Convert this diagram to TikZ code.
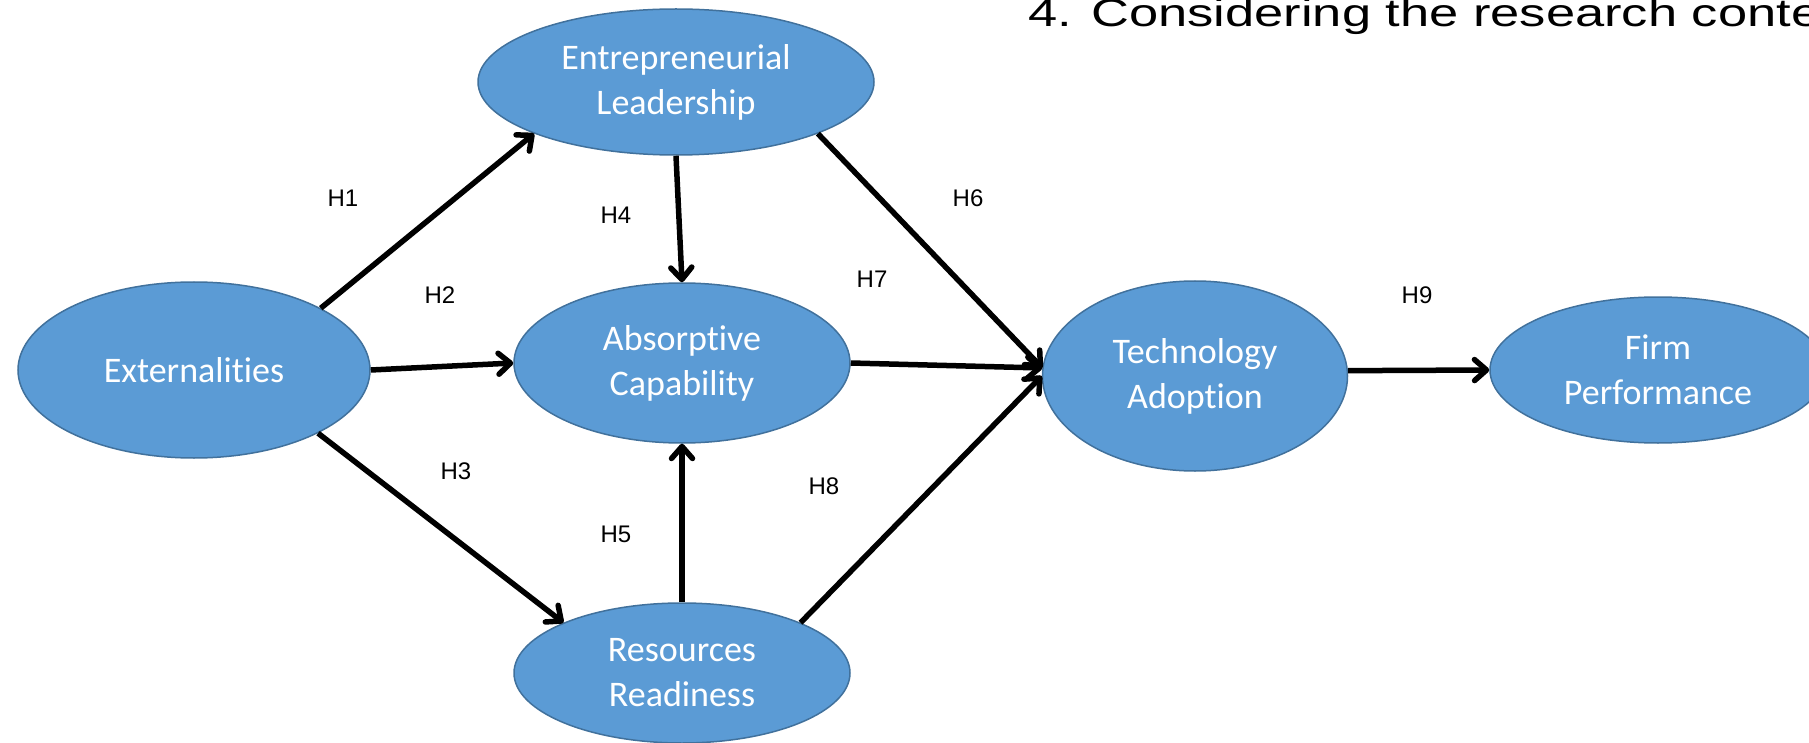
\documentclass[tikz,border=0pt]{standalone}
\usepackage{fontspec}
\setmainfont{Carlito}[Ligatures=NoCommon]
\newfontfamily\arialfont{Liberation Sans}
\usetikzlibrary{arrows.meta,shapes.geometric}

\definecolor{varfill}{HTML}{5B9BD5}
\definecolor{varline}{HTML}{41719C}

\begin{document}
\begin{tikzpicture}[
  x=1pt, y=-1pt,
  construct/.style={ellipse, draw=varline, line width=1.5pt, fill=varfill,
                    text=white, align=center, inner sep=0pt,
                    font=\fontsize{36}{45}\selectfont},
  hyp/.style={inner sep=0pt, font=\arialfont\fontsize{24}{28}\selectfont},
  arrow/.style={-{Straight Barb[length=12pt,width=21pt,round]}, line width=5.5pt}
]
\useasboundingbox (0,0) rectangle (1809,743);
\clip (0,0) rectangle (1809,743);

% constructs
\node[construct, minimum width=352pt, minimum height=176pt] (ext)  at (194,370)  {Externalities};
\node[construct, minimum width=396pt, minimum height=146pt] (ent)  at (676,82)   {Entrepreneurial\\Leadership};
\node[construct, minimum width=336pt, minimum height=160pt] (abs)  at (682,363)  {Absorptive\\Capability};
\node[construct, minimum width=336pt, minimum height=140pt] (res)  at (682,673)  {Resources\\Readiness};
\node[construct, minimum width=305pt, minimum height=190pt] (tech) at (1195,376) {Technology\\Adoption};
\node[construct, minimum width=336pt, minimum height=146pt] (firm) at (1658,370) {Firm\\Performance};

% heading line
\node[anchor=base west, inner sep=0pt] (title) at (1028,27)
  {\scalebox{1.345}[1]{\arialfont\fontsize{39}{46}\selectfont 4. Considering the research conte}};

% paths
\draw[arrow] (ext.26)    -- (ent.200);
\draw[arrow] (ext.east)  -- (abs.west);
\draw[arrow] (ext.-27)   -- (res.157);
\draw[arrow] (ent.south) -- (abs.north);
\draw[arrow] (res.north) -- (abs.south);
\draw[arrow] (ent.-20)   -- (tech.177);
\draw[arrow] (abs.east)  -- (tech.177);
\draw[arrow] (res.23)    -- (tech.west);
\draw[arrow] (tech.2)    -- (firm.west);

% hypothesis labels
\node[hyp] (h1) at (343,198) {H1};
\node[hyp] (h2) at (440,295) {H2};
\node[hyp] (h3) at (456,471) {H3};
\node[hyp] (h4) at (616,215) {H4};
\node[hyp] (h5) at (616,534) {H5};
\node[hyp] (h6) at (968,198) {H6};
\node[hyp] (h7) at (872,279) {H7};
\node[hyp] (h8) at (824,486) {H8};
\node[hyp] (h9) at (1417,295) {H9};
\end{tikzpicture}
\end{document}
